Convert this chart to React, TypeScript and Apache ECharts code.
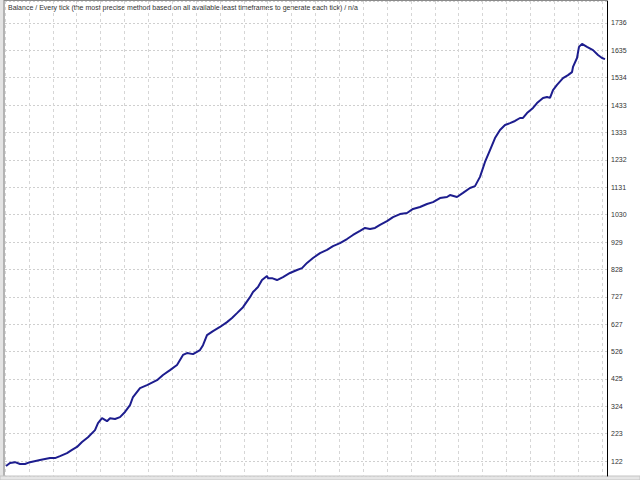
import React, { useEffect, useRef } from "react";
import * as echarts from "echarts";

const titleText =
  "Balance / Every tick (the most precise method based on all available least timeframes to generate each tick) / n/a";

const tickLabels = ["122", "223", "324", "425", "526", "627", "727", "828", "929", "1030", "1131", "1232", "1333", "1433", "1534", "1635", "1736"];

const trades = [0, 4, 9, 14, 19, 24, 34, 44, 49, 54, 61, 66, 71, 76, 82, 89, 92, 96, 101, 104, 109, 114, 119, 124, 127, 134, 141, 151, 157, 164, 171, 177, 181, 187, 194, 197, 201, 207, 214, 221, 226, 231, 237, 244, 247, 252, 256, 261, 262, 266, 271, 277, 284, 291, 296, 301, 307, 314, 321, 327, 334, 341, 347, 354, 359, 364, 369, 374, 381, 387, 394, 401, 407, 414, 421, 427, 434, 441, 444, 451, 457, 464, 469, 474, 479, 484, 489, 494, 499, 504, 509, 514, 517, 521, 527, 531, 537, 541, 544, 547, 551, 557, 562, 566, 567, 571, 573, 576, 581, 587, 592, 596, 599];

const balance = [104, 115, 118, 111, 111, 118, 126, 133, 133, 140, 151, 163, 174, 192, 210, 236, 262, 280, 269, 280, 277, 284, 303, 328, 358, 391, 402, 420, 439, 457, 476, 513, 520, 516, 531, 549, 586, 601, 616, 634, 649, 667, 689, 726, 745, 763, 789, 804, 796, 796, 789, 800, 815, 826, 833, 852, 870, 888, 900, 914, 925, 940, 955, 970, 981, 977, 981, 992, 1006, 1021, 1032, 1036, 1051, 1058, 1069, 1076, 1091, 1095, 1102, 1095, 1110, 1128, 1135, 1169, 1224, 1268, 1312, 1342, 1360, 1367, 1375, 1386, 1386, 1404, 1423, 1441, 1460, 1463, 1460, 1489, 1508, 1533, 1544, 1555, 1574, 1607, 1648, 1659, 1648, 1636, 1618, 1607, 1603];

const X_MIN = -1;
const X_MAX = 601;
const Y_MIN = 67;
const Y_MAX = 1817;

export default function App() {
  const ref = useRef<HTMLDivElement>(null);
  useEffect(() => {
    if (!ref.current) return;
    const chart = echarts.init(ref.current, null, { renderer: "svg" });
    const first = parseFloat(tickLabels[0]);
    const last = parseFloat(tickLabels[tickLabels.length - 1]);
    const step = (last - first) / (tickLabels.length - 1);
    const idxMin = (Y_MIN - first) / step;
    const idxMax = (Y_MAX - first) / step;

    chart.setOption({
      animation: false,
      backgroundColor: "#ffffff",
      grid: { left: 5, right: 33, top: 1, bottom: 4, containLabel: false },
      xAxis: [
        {
          type: "value",
          min: X_MIN,
          max: X_MAX,
          show: false,
        },
        {
          type: "value",
          min: -1.005,
          max: 24.21,
          splitNumber: 25,
          minInterval: 1,
          maxInterval: 1,
          axisLine: { show: false },
          axisTick: { show: false },
          axisLabel: { show: false },
          splitLine: {
            show: true,
            lineStyle: { color: "#d6d6d6", type: [3, 3], width: 1 },
          },
        },
      ],
      yAxis: [
        {
          type: "value",
          min: Y_MIN,
          max: Y_MAX,
          show: false,
        },
        {
          type: "value",
          position: "right",
          min: idxMin,
          max: idxMax,
          splitNumber: 17,
          minInterval: 1,
          maxInterval: 1,
          axisLine: { show: true, onZero: false, lineStyle: { color: "#000000", width: 1 } },
          axisTick: { show: false },
          axisLabel: {
            show: true,
            margin: 4,
            fontSize: 7,
            fontFamily: "Liberation Sans",
            color: "#333333",
            showMinLabel: false,
            showMaxLabel: false,
            formatter: (v: number) => {
              const k = Math.round(v);
              if (Math.abs(v - k) > 1e-3) return "";
              return tickLabels[k] ?? "";
            },
          },
          splitLine: {
            show: true,
            lineStyle: { color: "#cfcfcf", type: [2, 2], width: 1 },
          },
        },
      ],
      graphic: [
        {
          type: "rect",
          shape: { x: 0, y: 0, width: 3, height: 476 },
          style: { fill: "#e4e4e4" },
          silent: true,
        },
        {
          type: "line",
          shape: { x1: 4, y1: 0, x2: 4, y2: 476 },
          style: { stroke: "#9a9a9a", lineWidth: 1.5 },
          silent: true,
        },
        {
          type: "line",
          shape: { x1: 4, y1: 0.5, x2: 607, y2: 0.5 },
          style: { stroke: "#8a8a8a", lineWidth: 1 },
          silent: true,
        },
        {
          type: "rect",
          shape: { x: 0, y: 476, width: 640, height: 4 },
          style: { fill: "#e6e6e6", stroke: "#c4c4c4", lineWidth: 1 },
          silent: true,
        },
        {
          type: "text",
          x: 8,
          y: 4,
          style: {
            text: titleText,
            fontSize: 7,
            fontFamily: "Liberation Sans",
            fill: "#333333",
          },
          silent: true,
        },
      ],
      series: [
        {
          type: "line",
          xAxisIndex: 0,
          yAxisIndex: 0,
          data: trades.map((t, i) => [t, balance[i]]),
          showSymbol: false,
          lineStyle: { color: "#1d1d8e", width: 2 },
          itemStyle: { color: "#1d1d8e" },
        },
      ],
    });
    return () => chart.dispose();
  }, []);

  return (
    <div
      ref={ref}
      style={{ position: "fixed", left: 0, top: 0, width: 640, height: 480, background: "#fff" }}
    />
  );
}
